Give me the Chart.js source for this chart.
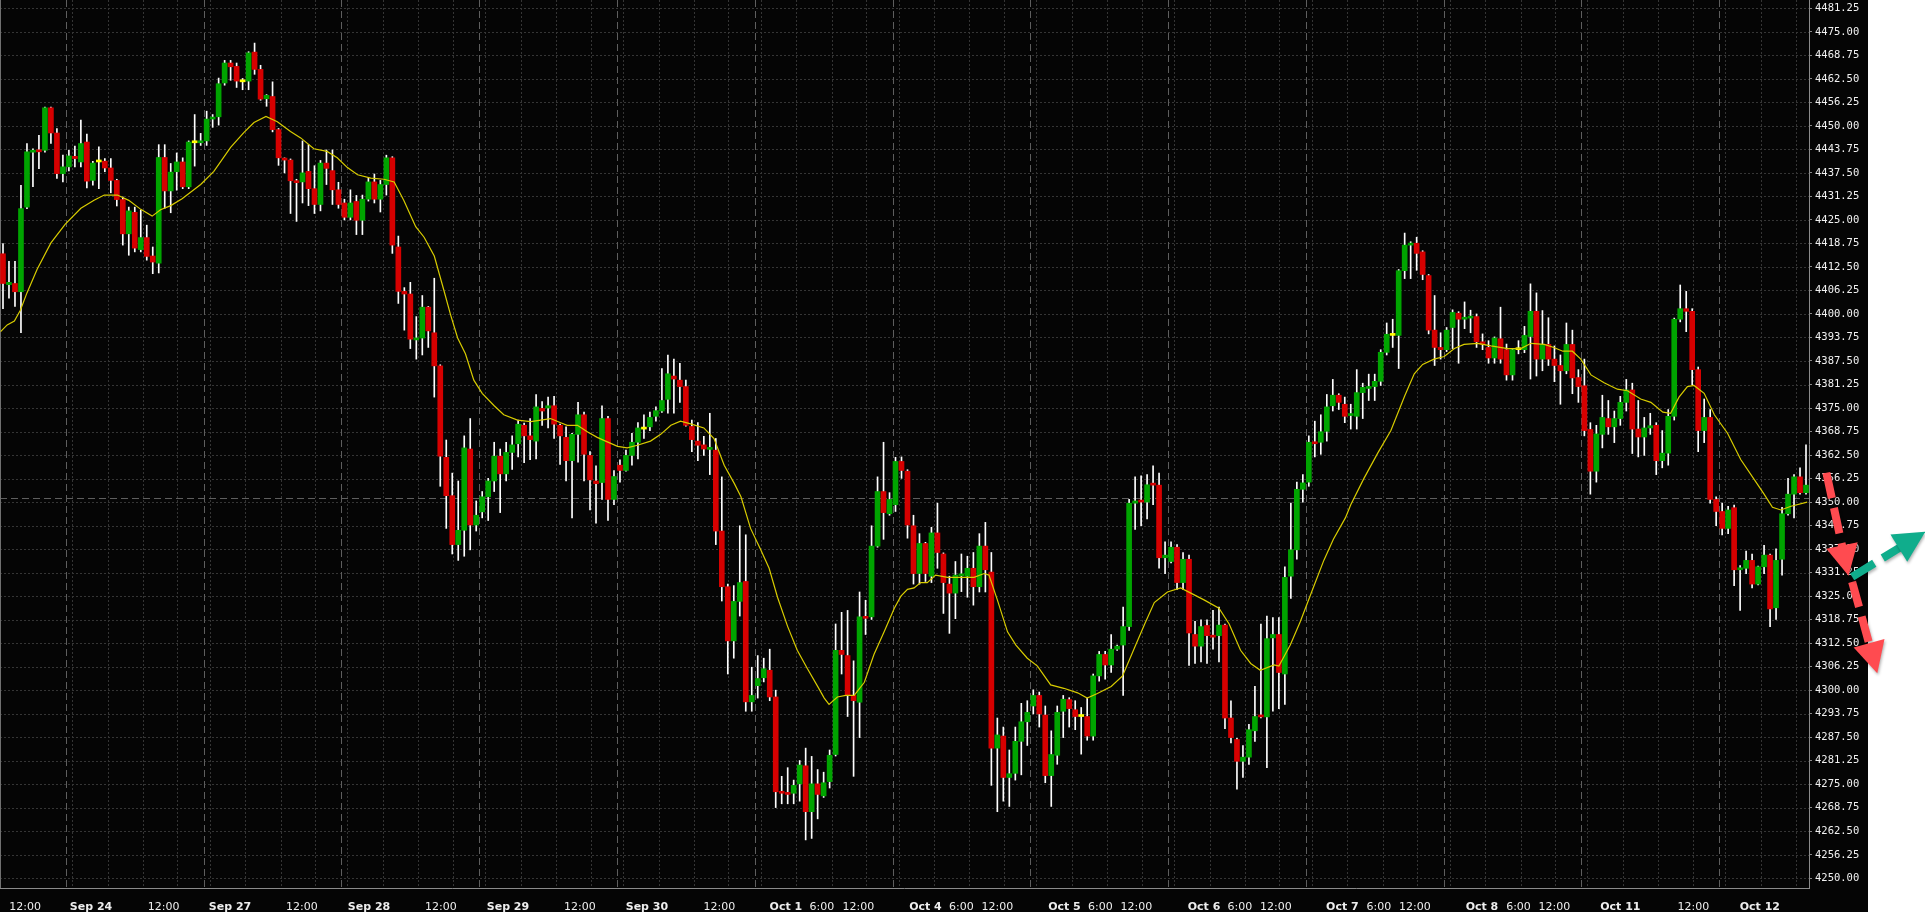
<!DOCTYPE html>
<html>
<head>
<meta charset="utf-8">
<script src="https://cdn.jsdelivr.net/npm/chart.js@4.4.0/dist/chart.umd.min.js"></script>
<style>
  html, body { margin: 0; padding: 0; background: #fff; }
  #wrap { width: 1925px; height: 912px; position: relative; }
</style>
</head>
<body>
<div id="wrap"><canvas id="esChart"></canvas></div>
<script>
// hourly bars, Sep 23 - Oct 12 (302 bars)
const opens = [
  4416.0, 4407.8, 4408.1, 4405.9, 4428.4, 4443.0, 4443.5, 4443.5, 4454.8, 4448.1,
  4437.3, 4439.1, 4441.9, 4440.4, 4445.7, 4435.5, 4440.4, 4440.6, 4438.8, 4435.5,
  4430.4, 4421.3, 4427.0, 4417.1, 4420.3, 4415.4, 4413.5, 4441.6, 4432.7, 4437.8,
  4440.4, 4433.8, 4445.5, 4445.5, 4446.0, 4451.8, 4452.4, 4461.4, 4466.7, 4465.8,
  4461.7, 4461.9, 4469.6, 4465.0, 4457.2, 4457.8, 4449.0, 4441.2, 4440.9, 4435.4,
  4435.1, 4437.9, 4433.3, 4429.1, 4440.1, 4438.1, 4433.0, 4429.5, 4425.7, 4429.9,
  4424.9, 4430.5, 4435.1, 4430.5, 4434.4, 4441.5, 4417.8, 4406.0, 4405.3, 4393.1,
  4393.6, 4401.8, 4395.0, 4386.2, 4361.9, 4351.7, 4338.7, 4342.5, 4364.1, 4343.9,
  4347.4, 4351.4, 4355.6, 4362.2, 4357.5, 4363.2, 4365.5, 4370.4, 4367.6, 4366.2,
  4374.9, 4375.0, 4375.6, 4370.4, 4367.2, 4361.0, 4368.0, 4373.2, 4362.4, 4355.6,
  4355.2, 4372.2, 4350.7, 4359.8, 4358.4, 4362.4, 4365.9, 4369.4, 4370.0, 4372.8,
  4374.2, 4377.3, 4383.5, 4382.4, 4380.7, 4370.1, 4366.2, 4365.2, 4364.0, 4363.8,
  4342.3, 4327.5, 4313.1, 4323.6, 4328.9, 4296.9, 4301.2, 4303.3, 4305.3, 4298.2,
  4273.0, 4272.7, 4272.6, 4275.1, 4279.9, 4267.7, 4275.1, 4271.9, 4275.7, 4282.9,
  4310.6, 4309.2, 4298.6, 4296.8, 4319.5, 4319.5, 4338.3, 4352.8, 4346.9, 4349.3,
  4360.8, 4358.2, 4343.7, 4331.0, 4339.0, 4330.3, 4341.8, 4336.2, 4328.2, 4325.8,
  4330.4, 4330.3, 4332.4, 4327.5, 4338.3, 4331.4, 4284.6, 4287.8, 4276.8, 4277.9,
  4286.4, 4291.6, 4295.8, 4298.6, 4293.4, 4277.3, 4282.7, 4294.4, 4297.5, 4294.8,
  4293.0, 4293.0, 4287.8, 4303.8, 4309.5, 4306.7, 4310.9, 4312.0, 4316.9, 4349.7,
  4350.5, 4350.0, 4354.9, 4354.5, 4335.2, 4334.2, 4338.0, 4328.6, 4334.8, 4314.8,
  4311.7, 4317.2, 4314.5, 4314.5, 4317.3, 4292.6, 4286.9, 4281.1, 4282.2, 4289.2,
  4293.3, 4292.9, 4313.9, 4314.8, 4304.3, 4330.3, 4337.3, 4353.4, 4355.3, 4365.9,
  4365.9, 4368.8, 4375.6, 4378.4, 4376.0, 4373.0, 4372.8, 4379.1, 4380.2, 4380.7,
  4382.1, 4389.8, 4394.3, 4394.3, 4411.5, 4418.3, 4418.8, 4416.5, 4410.2, 4395.7,
  4391.1, 4390.5, 4396.4, 4400.2, 4398.6, 4398.9, 4399.3, 4392.6, 4391.1, 4388.3,
  4393.4, 4390.5, 4383.8, 4390.5, 4390.5, 4394.0, 4400.7, 4388.0, 4391.9, 4388.0,
  4386.3, 4384.9, 4391.9, 4383.1, 4380.9, 4369.3, 4358.2, 4368.0, 4372.2, 4370.0,
  4372.2, 4376.5, 4379.8, 4369.4, 4367.3, 4369.7, 4370.4, 4361.0, 4363.0, 4372.8,
  4398.6, 4401.4, 4400.7, 4385.2, 4369.0, 4372.5, 4350.7, 4347.5, 4343.0, 4348.5,
  4332.0, 4332.4, 4334.5, 4328.2, 4332.8, 4335.9, 4321.9, 4334.8, 4346.9, 4352.1,
  4356.7, 4352.5
];
const highs = [
  4418.7, 4414.0, 4414.0, 4434.2, 4445.3, 4443.9, 4447.5, 4455.0, 4455.0, 4449.3,
  4442.2, 4443.5, 4444.6, 4451.5, 4447.8, 4440.6, 4444.4, 4441.3, 4441.3, 4435.8,
  4431.1, 4428.4, 4428.4, 4427.6, 4423.6, 4417.8, 4445.0, 4445.0, 4440.0, 4442.8,
  4441.5, 4446.0, 4453.0, 4448.0, 4453.9, 4453.0, 4462.7, 4467.4, 4467.4, 4466.7,
  4462.6, 4469.7, 4472.0, 4466.1, 4458.3, 4461.7, 4449.3, 4441.5, 4441.2, 4435.8,
  4446.0, 4445.0, 4439.4, 4440.8, 4443.6, 4443.6, 4435.0, 4430.5, 4433.0, 4431.5,
  4431.6, 4436.1, 4437.2, 4435.5, 4442.2, 4441.8, 4420.7, 4407.0, 4408.4, 4399.3,
  4404.9, 4402.0, 4409.5, 4386.5, 4366.5, 4357.7, 4355.6, 4367.6, 4372.2, 4350.3,
  4352.8, 4356.3, 4365.9, 4364.1, 4365.9, 4367.6, 4371.8, 4371.0, 4372.2, 4378.6,
  4376.7, 4377.9, 4378.1, 4370.7, 4370.0, 4368.3, 4376.5, 4373.9, 4363.4, 4359.6,
  4375.6, 4372.8, 4358.4, 4361.2, 4363.8, 4368.3, 4371.1, 4373.2, 4373.9, 4375.3,
  4385.5, 4389.1, 4388.0, 4386.9, 4382.4, 4371.8, 4371.1, 4367.5, 4373.6, 4366.9,
  4356.7, 4328.2, 4327.8, 4343.7, 4341.3, 4306.1, 4309.2, 4308.5, 4310.9, 4300.0,
  4277.1, 4279.4, 4276.1, 4281.3, 4284.6, 4282.4, 4278.9, 4278.2, 4284.1, 4317.6,
  4320.7, 4321.2, 4307.8, 4326.1, 4323.9, 4343.7, 4356.7, 4365.9, 4352.5, 4361.9,
  4362.0, 4358.6, 4346.5, 4341.6, 4339.3, 4343.3, 4349.7, 4336.5, 4330.3, 4334.2,
  4336.2, 4335.6, 4336.6, 4341.6, 4344.6, 4336.6, 4292.6, 4290.2, 4284.1, 4290.2,
  4296.5, 4297.2, 4300.1, 4299.5, 4295.8, 4289.2, 4295.8, 4298.6, 4298.0, 4297.2,
  4295.4, 4297.9, 4304.3, 4310.3, 4310.3, 4314.8, 4312.0, 4322.1, 4350.7, 4356.7,
  4357.0, 4357.3, 4359.6, 4357.7, 4339.4, 4339.4, 4338.7, 4336.6, 4335.9, 4318.3,
  4318.7, 4318.7, 4321.2, 4322.1, 4317.6, 4297.2, 4287.2, 4285.3, 4290.9, 4301.0,
  4317.6, 4319.7, 4319.3, 4319.3, 4332.8, 4349.7, 4355.3, 4357.3, 4367.6, 4371.5,
  4373.2, 4378.6, 4382.6, 4378.8, 4377.9, 4376.0, 4385.2, 4381.6, 4384.0, 4384.0,
  4390.5, 4397.6, 4398.6, 4411.8, 4421.5, 4419.2, 4420.4, 4416.8, 4410.5, 4404.9,
  4395.0, 4396.4, 4401.1, 4400.6, 4403.2, 4401.0, 4400.0, 4394.7, 4392.9, 4393.9,
  4401.8, 4392.0, 4390.8, 4392.9, 4396.7, 4408.0, 4405.6, 4400.9, 4399.0, 4391.5,
  4389.1, 4397.6, 4395.7, 4385.2, 4388.0, 4371.1, 4370.4, 4378.4, 4377.0, 4374.2,
  4378.1, 4382.6, 4381.6, 4377.0, 4372.5, 4373.6, 4371.1, 4369.0, 4374.6, 4398.9,
  4407.7, 4406.0, 4401.4, 4385.9, 4377.4, 4374.6, 4351.4, 4349.7, 4348.9, 4349.2,
  4333.1, 4337.0, 4336.2, 4333.0, 4338.5, 4336.2, 4337.6, 4348.6, 4356.3, 4357.3,
  4359.1, 4365.2
];
const lows = [
  4401.4, 4404.2, 4402.0, 4395.0, 4428.0, 4433.8, 4438.6, 4443.0, 4445.3, 4436.0,
  4435.1, 4438.0, 4439.1, 4439.1, 4433.5, 4434.2, 4433.3, 4437.8, 4432.2, 4428.7,
  4418.3, 4415.6, 4416.5, 4416.5, 4414.3, 4410.7, 4410.9, 4428.1, 4426.9, 4432.9,
  4433.3, 4433.3, 4439.3, 4444.8, 4444.8, 4449.6, 4450.2, 4460.8, 4462.1, 4460.2,
  4459.6, 4459.6, 4463.7, 4456.8, 4455.2, 4448.4, 4439.5, 4437.5, 4426.7, 4424.6,
  4429.5, 4428.8, 4426.7, 4427.4, 4434.4, 4429.1, 4428.1, 4425.0, 4425.0, 4421.1,
  4421.1, 4430.0, 4429.5, 4427.1, 4431.6, 4416.1, 4402.8, 4395.7, 4390.8, 4388.0,
  4389.1, 4391.1, 4377.9, 4354.2, 4343.0, 4336.2, 4334.5, 4335.6, 4337.3, 4342.3,
  4345.8, 4345.1, 4352.8, 4347.2, 4355.6, 4358.7, 4362.0, 4360.5, 4361.3, 4361.5,
  4370.4, 4369.7, 4366.9, 4360.0, 4355.6, 4345.8, 4360.6, 4355.6, 4347.9, 4344.4,
  4350.7, 4345.1, 4349.3, 4355.3, 4358.2, 4359.8, 4361.5, 4366.9, 4369.0, 4371.5,
  4373.8, 4373.6, 4373.6, 4376.5, 4370.2, 4363.4, 4361.0, 4362.4, 4357.3, 4338.7,
  4323.7, 4304.3, 4308.5, 4319.7, 4294.4, 4294.4, 4297.9, 4302.2, 4297.2, 4268.8,
  4269.8, 4269.8, 4269.8, 4270.5, 4260.2, 4260.6, 4265.8, 4271.5, 4274.0, 4282.5,
  4304.3, 4293.0, 4277.1, 4287.4, 4314.8, 4318.8, 4338.0, 4340.1, 4346.5, 4347.5,
  4356.3, 4340.4, 4328.2, 4328.2, 4328.9, 4328.6, 4332.4, 4320.4, 4315.1, 4319.0,
  4326.2, 4324.7, 4322.6, 4326.1, 4326.1, 4274.7, 4267.7, 4270.5, 4269.1, 4276.1,
  4277.5, 4285.3, 4293.7, 4290.2, 4275.4, 4269.1, 4280.3, 4287.4, 4290.2, 4289.5,
  4283.0, 4286.7, 4286.7, 4302.4, 4302.9, 4304.7, 4310.6, 4298.6, 4315.9, 4342.7,
  4343.7, 4345.5, 4349.3, 4332.4, 4331.0, 4333.8, 4326.8, 4326.8, 4306.6, 4307.1,
  4307.5, 4307.1, 4310.9, 4307.5, 4289.8, 4286.0, 4273.7, 4276.8, 4280.3, 4286.4,
  4292.6, 4279.4, 4294.4, 4295.1, 4296.2, 4324.4, 4334.8, 4350.0, 4354.2, 4362.0,
  4362.7, 4366.2, 4374.2, 4374.6, 4371.1, 4369.4, 4369.4, 4372.2, 4377.0, 4377.0,
  4381.0, 4389.1, 4391.1, 4385.5, 4409.4, 4409.4, 4411.6, 4409.1, 4394.7, 4386.3,
  4388.0, 4390.0, 4390.8, 4386.9, 4396.1, 4395.0, 4391.1, 4390.5, 4386.9, 4386.9,
  4386.9, 4382.4, 4382.4, 4389.4, 4389.7, 4382.7, 4383.5, 4384.9, 4386.3, 4382.0,
  4376.0, 4384.1, 4378.8, 4376.5, 4367.6, 4352.1, 4355.3, 4364.4, 4368.0, 4365.8,
  4370.4, 4374.2, 4362.9, 4362.0, 4362.4, 4368.0, 4357.3, 4359.1, 4359.8, 4371.8,
  4397.9, 4395.3, 4381.2, 4363.4, 4365.8, 4349.7, 4343.7, 4341.3, 4341.6, 4327.8,
  4321.2, 4331.0, 4327.2, 4328.0, 4331.0, 4316.9, 4318.8, 4330.6, 4346.5, 4345.8,
  4352.1, 4352.1
];
const closes = [
  4408.1, 4408.4, 4405.9, 4428.0, 4443.1, 4443.5, 4443.1, 4454.8, 4448.1, 4437.3,
  4439.1, 4442.0, 4441.3, 4445.3, 4435.3, 4440.1, 4440.4, 4438.8, 4435.5, 4430.4,
  4421.3, 4427.4, 4417.5, 4420.3, 4415.3, 4413.8, 4441.6, 4432.7, 4437.7, 4440.4,
  4433.8, 4445.7, 4445.5, 4445.9, 4451.8, 4452.1, 4461.2, 4466.7, 4465.7, 4461.9,
  4461.7, 4469.4, 4465.0, 4457.1, 4458.1, 4449.0, 4441.5, 4440.9, 4435.4, 4434.9,
  4437.5, 4433.3, 4429.1, 4440.1, 4438.7, 4433.0, 4429.1, 4425.7, 4429.5, 4424.9,
  4430.5, 4435.1, 4430.5, 4434.4, 4441.5, 4418.3, 4406.0, 4405.3, 4393.3, 4393.5,
  4401.8, 4395.5, 4386.2, 4362.2, 4351.7, 4338.7, 4342.5, 4364.4, 4343.9, 4346.5,
  4351.4, 4355.6, 4362.2, 4357.5, 4363.2, 4365.2, 4370.7, 4367.6, 4366.6, 4375.3,
  4374.2, 4375.6, 4370.7, 4367.6, 4361.0, 4368.0, 4373.2, 4362.7, 4355.9, 4354.9,
  4372.2, 4350.7, 4356.8, 4358.4, 4362.4, 4365.9, 4369.7, 4369.4, 4372.5, 4374.3,
  4377.0, 4384.1, 4382.7, 4380.7, 4370.4, 4366.6, 4365.1, 4364.1, 4364.3, 4342.3,
  4327.5, 4313.1, 4323.6, 4328.6, 4296.9, 4298.6, 4303.1, 4305.7, 4298.2, 4273.0,
  4272.6, 4272.3, 4274.7, 4280.1, 4267.7, 4275.1, 4272.3, 4275.4, 4282.7, 4310.6,
  4309.5, 4298.6, 4297.2, 4319.5, 4319.1, 4338.3, 4352.8, 4347.2, 4350.7, 4360.8,
  4358.4, 4343.9, 4331.0, 4339.0, 4331.0, 4341.8, 4336.6, 4328.6, 4325.8, 4330.6,
  4330.8, 4332.4, 4327.5, 4338.3, 4332.0, 4284.6, 4288.1, 4276.8, 4277.8, 4286.4,
  4291.6, 4294.1, 4298.6, 4293.7, 4277.3, 4282.9, 4294.1, 4297.6, 4295.1, 4293.0,
  4293.0, 4287.8, 4303.8, 4309.5, 4306.7, 4310.9, 4311.7, 4316.9, 4349.7, 4350.3,
  4350.0, 4354.6, 4354.5, 4335.2, 4335.9, 4338.0, 4328.6, 4334.8, 4315.2, 4311.7,
  4316.9, 4314.5, 4314.1, 4317.3, 4292.6, 4287.4, 4281.1, 4282.2, 4289.5, 4293.0,
  4292.9, 4313.7, 4314.8, 4304.7, 4330.0, 4337.3, 4353.4, 4355.1, 4365.9, 4365.5,
  4368.7, 4375.3, 4378.4, 4376.5, 4372.8, 4373.3, 4379.1, 4380.5, 4380.6, 4382.1,
  4389.8, 4394.6, 4394.3, 4411.5, 4418.3, 4418.8, 4416.1, 4410.5, 4395.7, 4391.1,
  4390.5, 4395.7, 4400.4, 4398.6, 4398.9, 4399.2, 4392.6, 4391.9, 4388.3, 4393.6,
  4388.0, 4383.8, 4390.5, 4390.5, 4394.3, 4400.7, 4388.0, 4391.9, 4388.0, 4386.3,
  4384.9, 4391.9, 4383.0, 4380.7, 4369.0, 4358.2, 4368.1, 4372.5, 4370.0, 4372.2,
  4376.5, 4379.8, 4369.4, 4367.3, 4369.7, 4370.3, 4361.0, 4363.0, 4372.8, 4398.6,
  4401.4, 4400.7, 4385.2, 4369.0, 4372.5, 4350.7, 4347.5, 4343.0, 4347.9, 4332.0,
  4332.4, 4334.5, 4328.2, 4332.8, 4335.9, 4321.6, 4334.5, 4346.9, 4352.1, 4356.7,
  4352.5, 4354.5
];

// yellow moving average (bar position, price)
const maPos = [
  -0.4, 0.7, 1.9, 2.9, 4.0, 5.7, 8.0, 10.4, 13.0, 15.2, 16.9, 19.1, 21.0, 23.0, 24.9,
  26.3, 28.0, 29.9, 33.0, 35.2, 38.0, 40.2, 41.9, 43.9, 45.8, 48.0, 49.7, 51.9, 54.1,
  55.8, 57.5, 59.2, 61.4, 63.6, 65.3, 66.9, 68.9, 70.3, 72.0, 73.6, 74.7, 75.9, 77.2,
  78.6, 80.0, 82.0, 83.6, 85.9, 88.1, 89.8, 91.4, 93.1, 94.2, 95.9, 97.6, 99.2, 100.6,
  102.6, 104.2, 105.9, 108.1, 109.8, 111.5, 113.1, 114.8, 117.0, 118.7, 120.4, 122.1,
  123.2, 124.8, 126.5, 127.9, 129.3, 131.0, 132.6, 134.3, 136.0, 137.1, 137.9, 139.3,
  140.7, 142.1, 143.8, 145.4, 147.1, 148.8, 149.9, 151.0, 152.1, 153.2, 154.3, 155.7,
  157.7, 159.9, 162.1, 163.8, 164.6, 166.0, 167.7, 169.1, 171.0, 172.7, 174.9, 177.1,
  179.4, 181.0, 182.7, 185.0, 186.9, 188.9, 190.6, 192.2, 194.4, 196.6, 198.3, 200.5,
  203.0, 204.7, 206.6, 208.3, 209.9, 212.2, 213.0, 214.9, 216.6, 218.8, 220.5, 222.1,
  224.1, 225.0, 227.2, 229.5, 231.7, 234.0, 235.6, 237.0, 238.9, 240.6, 242.3, 243.9,
  246.2, 248.4, 251.2, 253.4, 255.1, 257.3, 258.9, 260.4, 262.0, 263.4, 265.1, 267.3,
  269.5, 271.2, 273.4, 275.1, 277.1, 278.4, 279.8, 281.2, 282.3, 284.0, 285.7, 287.9,
  290.1, 292.4, 294.0, 295.4, 296.8, 298.5, 301.2
];
const maVal = [
  4395.3, 4397.1, 4398.1, 4401.0, 4405.6, 4411.9, 4418.9, 4423.9, 4428.1, 4430.2, 4431.6, 4431.6, 4430.2, 4427.8, 4426.0,
  4427.7, 4428.8, 4430.6, 4434.4, 4437.9, 4444.3, 4448.2, 4450.9, 4452.5, 4451.1, 4448.5, 4446.8, 4443.9, 4443.2,
  4441.5, 4438.9, 4437.0, 4436.1, 4435.8, 4435.1, 4430.2, 4423.2, 4420.4, 4415.4, 4406.3, 4399.9, 4393.6, 4389.4,
  4382.4, 4378.9, 4375.6, 4373.2, 4371.8, 4371.4, 4371.8, 4372.2, 4371.1, 4370.4, 4370.4, 4368.6, 4367.2, 4366.2,
  4364.8, 4364.4, 4365.1, 4366.2, 4368.0, 4370.4, 4371.5, 4370.8, 4369.7, 4366.9, 4359.8, 4354.9,
  4351.4, 4343.0, 4337.3, 4332.4, 4324.7, 4316.9, 4310.6, 4305.7, 4301.0, 4297.9, 4296.2, 4298.2,
  4298.6, 4298.6, 4302.1, 4309.5, 4315.5, 4321.8, 4325.0, 4326.8, 4327.2, 4328.6, 4328.6, 4330.6,
  4330.0, 4330.0, 4330.0, 4331.0, 4330.6, 4324.0, 4315.5, 4312.0, 4308.5, 4306.4, 4301.4, 4300.5,
  4299.3, 4297.9, 4299.1, 4301.0, 4303.8, 4311.3, 4317.6, 4323.3, 4326.1, 4327.2, 4325.8, 4324.0,
  4321.8, 4317.6, 4310.6, 4307.1, 4305.3, 4306.7, 4306.4, 4312.0, 4318.3, 4327.5, 4334.5, 4340.1,
  4345.8, 4349.3, 4356.3, 4363.0, 4369.0, 4378.2, 4384.1, 4386.6, 4388.0, 4388.7, 4390.8, 4391.9,
  4392.2, 4391.5, 4390.8, 4390.8, 4392.2, 4391.9, 4391.1, 4390.1, 4390.1, 4388.0, 4383.8, 4381.7,
  4380.0, 4379.6, 4377.4, 4376.5, 4373.9, 4373.6, 4377.9, 4380.7, 4381.0, 4378.9, 4373.2, 4368.3,
  4361.3, 4355.9, 4352.1, 4348.6, 4347.9, 4348.9, 4350.0
];

// price axis ticks
const yTicks = [
  4250.00, 4256.25, 4262.50, 4268.75, 4275.00, 4281.25, 4287.50, 4293.75, 4300.00, 4306.25,
  4312.50, 4318.75, 4325.00, 4331.25, 4337.50, 4343.75, 4350.00, 4356.25, 4362.50, 4368.75,
  4375.00, 4381.25, 4387.50, 4393.75, 4400.00, 4406.25, 4412.50, 4418.75, 4425.00, 4431.25,
  4437.50, 4443.75, 4450.00, 4456.25, 4462.50, 4468.75, 4475.00, 4481.25
];

// time axis labels (position in bars)
const xTickPos = [
  3.7, 14.7, 26.8, 37.9, 49.9, 61.1, 73.1, 84.3, 96.3, 107.5, 119.6, 130.7, 136.7, 142.8,
  154.0, 160.0, 166.0, 177.2, 183.2, 189.2, 200.5, 206.5, 212.5, 223.6, 229.7, 235.7,
  246.9, 253.0, 259.0, 270.0, 282.2, 293.3
];
const xTickText = [
  '12:00', 'Sep 24', '12:00', 'Sep 27', '12:00', 'Sep 28', '12:00', 'Sep 29', '12:00', 'Sep 30',
  '12:00', 'Oct 1', '6:00', '12:00', 'Oct 4', '6:00', '12:00', 'Oct 5', '6:00', '12:00',
  'Oct 6', '6:00', '12:00', 'Oct 7', '6:00', '12:00', 'Oct 8', '6:00', '12:00', 'Oct 11',
  '12:00', 'Oct 12'
];

// session breaks (between bars) and light grid offsets inside each session
const sessionBreaks = [10.5, 33.5, 56.5, 79.5, 102.5, 125.5, 148.5, 171.5, 194.5, 217.5, 240.5, 263.5, 286.5];
const gridOffsets = [-16.1, -10.3, 1, 6.95, 12.85, 18.6];
const lastPrice = 4351.1;

// hand drawn arrows on the right (bar position, price)
const arrowFrom = [[304.4, 4357.8], [308.7, 4328.8], [308.7, 4330.1]];
const arrowTo = [[308.1, 4330.4], [312.9, 4304.5], [320.9, 4342.1]];
const arrowColors = ['#ff4b50', '#ff4b50', '#10ad8c'];

const GREEN = '#00a400', RED = '#d60000', DOJI = '#ffff00';
const bars = opens.map((_, i) => i);
const bodyColors = opens.map((o, i) => closes[i] > o ? GREEN : (closes[i] < o ? RED : DOJI));

const backdrop = {
  id: 'backdrop',
  beforeDraw(chart) {
    const ctx = chart.ctx;
    ctx.save();
    ctx.fillStyle = '#050505';
    ctx.fillRect(0, 0, 1868, chart.height);
    ctx.fillStyle = '#ffffff';
    ctx.fillRect(1868, 0, chart.width - 1868, chart.height);
    ctx.restore();
  }
};

const gridLines = {
  id: 'gridLines',
  beforeDatasetsDraw(chart) {
    const { ctx, chartArea: a, scales: { xl, y } } = chart;
    const hLine = (py) => { ctx.beginPath(); ctx.moveTo(a.left, py); ctx.lineTo(a.right, py); ctx.stroke(); };
    const vLine = (px) => { ctx.beginPath(); ctx.moveTo(px, a.top); ctx.lineTo(px, a.bottom); ctx.stroke(); };
    ctx.save();
    ctx.beginPath();
    ctx.rect(a.left, a.top, a.right - a.left, a.bottom - a.top);
    ctx.clip();
    ctx.lineWidth = 1;

    ctx.strokeStyle = '#353535';
    ctx.setLineDash([2, 2]);
    yTicks.forEach(v => hLine(Math.round(y.getPixelForValue(v)) + 0.5));
    sessionBreaks.forEach(b => gridOffsets.forEach(o => {
      if (o < 0 && b !== sessionBreaks[0]) return;
      const p = b + o;
      if (p > 1 && p < bars.length) vLine(Math.round(xl.getPixelForValue(p)) + 0.5);
    }));

    ctx.strokeStyle = '#5e5e5e';
    ctx.setLineDash([7, 4]);
    sessionBreaks.forEach(b => vLine(Math.round(xl.getPixelForValue(b)) + 0.5));
    hLine(Math.round(y.getPixelForValue(lastPrice)) + 0.5);

    ctx.setLineDash([]);
    ctx.strokeStyle = '#707070';
    vLine(a.left + 0.5);
    ctx.restore();

    ctx.save();
    ctx.strokeStyle = '#8a8a8a';
    ctx.lineWidth = 1;
    ctx.beginPath();
    ctx.moveTo(a.left, a.bottom + 0.5);
    ctx.lineTo(a.right, a.bottom + 0.5);
    ctx.stroke();
    ctx.restore();
  }
};

const arrows = {
  id: 'arrows',
  afterDraw(chart) {
    const { ctx, scales: { xl, y } } = chart;
    arrowFrom.forEach((f, k) => {
      const x0 = xl.getPixelForValue(f[0]), y0 = y.getPixelForValue(f[1]);
      const x1 = xl.getPixelForValue(arrowTo[k][0]), y1 = y.getPixelForValue(arrowTo[k][1]);
      const len = Math.hypot(x1 - x0, y1 - y0);
      const ux = (x1 - x0) / len, uy = (y1 - y0) / len;
      const head = 31, half = 16;
      const bx = x1 - ux * head, by = y1 - uy * head;
      ctx.save();
      ctx.shadowColor = 'rgba(0,0,0,0.3)';
      ctx.shadowBlur = 3;
      ctx.shadowOffsetX = 1;
      ctx.shadowOffsetY = 2;
      ctx.strokeStyle = arrowColors[k];
      ctx.lineWidth = 8;
      ctx.setLineDash([26, 10]);
      ctx.beginPath();
      ctx.moveTo(x0, y0);
      ctx.lineTo(bx + ux * 2, by + uy * 2);
      ctx.stroke();
      ctx.setLineDash([]);
      ctx.fillStyle = arrowColors[k];
      ctx.beginPath();
      ctx.moveTo(x1, y1);
      ctx.lineTo(bx - uy * half, by + ux * half);
      ctx.lineTo(bx + uy * half, by - ux * half);
      ctx.closePath();
      ctx.fill();
      ctx.restore();
    });
  }
};

new Chart(document.getElementById('esChart'), {
  data: {
    labels: bars,
    datasets: [
      {
        type: 'line',
        label: 'MA',
        xAxisID: 'xl',
        yAxisID: 'y',
        data: maPos.map((p, i) => ({ x: p, y: maVal[i] })),
        borderColor: '#d8cc00',
        borderWidth: 1.2,
        pointRadius: 0,
        tension: 0,
        order: 0
      },
      {
        type: 'bar',
        label: 'body',
        xAxisID: 'x',
        yAxisID: 'y',
        data: opens.map((o, i) => [o, closes[i]]),
        backgroundColor: bodyColors,
        barThickness: 5,
        minBarLength: 2,
        grouped: false,
        order: 1
      },
      {
        type: 'bar',
        label: 'wick',
        xAxisID: 'x',
        yAxisID: 'y',
        data: lows.map((l, i) => [l, highs[i]]),
        backgroundColor: '#ffffff',
        barThickness: 1,
        grouped: false,
        order: 2
      }
    ]
  },
  options: {
    responsive: true,
    maintainAspectRatio: false,
    animation: false,
    devicePixelRatio: 1,
    layout: { padding: 0 },
    plugins: {
      legend: { display: false },
      tooltip: { enabled: false }
    },
    scales: {
      x: {
        type: 'category',
        display: false,
        offset: true
      },
      xl: {
        type: 'linear',
        position: 'bottom',
        min: -0.5,
        max: bars.length - 0.5,
        grid: { display: false },
        border: { display: false },
        afterBuildTicks: (s) => { s.ticks = xTickPos.map(v => ({ value: v })); },
        afterFit: (s) => { s.height = 24; s.paddingLeft = 0; s.paddingRight = 0; },
        ticks: {
          autoSkip: false,
          maxRotation: 0,
          minRotation: 0,
          padding: 5,
          color: '#eeeeee',
          font: (c) => ({
            family: 'DejaVu Sans',
            size: 11,
            weight: /^[A-Z]/.test(xTickText[c.index] || '') ? 'bold' : 'normal'
          }),
          callback: (v, i) => xTickText[i]
        }
      },
      y: {
        type: 'linear',
        position: 'right',
        min: 4247.42,
        max: 4483.45,
        afterBuildTicks: (s) => { s.ticks = yTicks.map(v => ({ value: v })); },
        afterFit: (s) => { s.width = 116; s.paddingTop = 0; s.paddingBottom = 0; },
        grid: {
          display: true,
          drawOnChartArea: false,
          drawTicks: true,
          tickLength: 3,
          tickColor: '#8a8a8a'
        },
        border: { display: true, color: '#8a8a8a' },
        ticks: {
          autoSkip: false,
          padding: 3,
          color: '#f2f2f2',
          font: { family: 'DejaVu Sans Mono', size: 10.5 },
          callback: (v) => Number(v).toFixed(2)
        }
      }
    }
  },
  plugins: [backdrop, gridLines, arrows]
});
</script>
</body>
</html>
